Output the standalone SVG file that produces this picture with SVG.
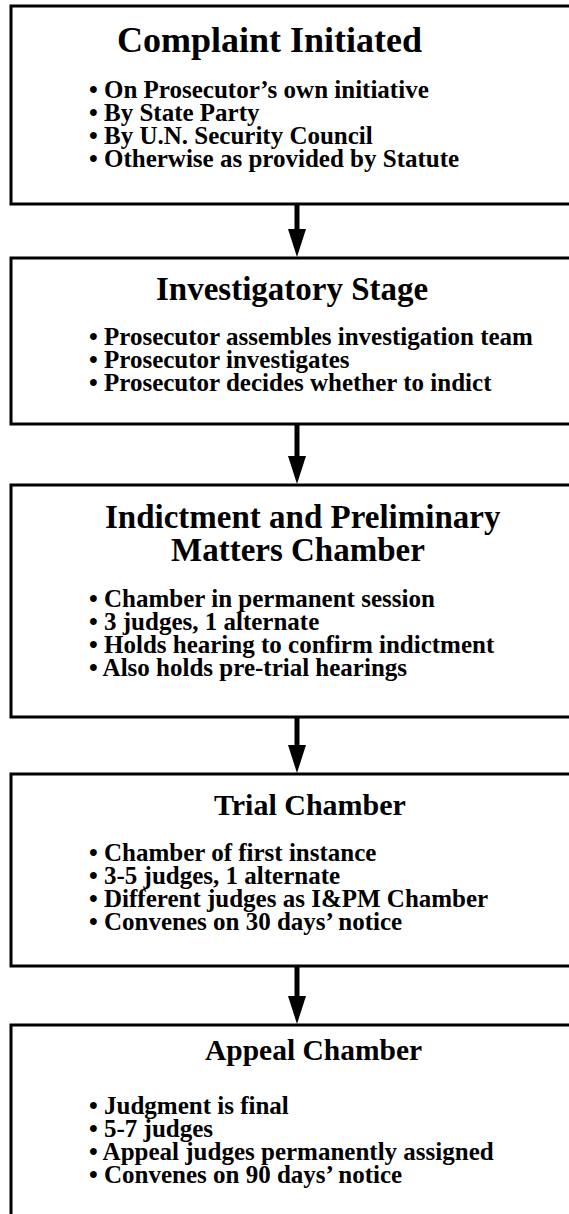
<svg xmlns="http://www.w3.org/2000/svg" width="569" height="1214" viewBox="0 0 569 1214">
<defs>
<style>
.box{fill:#fff;stroke:#000;stroke-width:3}
.t{font-family:"Liberation Serif","Times New Roman",serif;font-weight:bold;fill:#000}
.b{font-family:"Liberation Serif","Times New Roman",serif;font-weight:bold;font-size:25px;fill:#000}
.sh{stroke:#000;stroke-width:5;fill:none}
.hd{fill:#000}
</style>
</defs>
<rect width="569" height="1214" fill="#fff"/>
<g id="connectors">
<line class="sh" x1="297" y1="204" x2="297" y2="234"/><polygon class="hd" points="288,229 306,229 297,257"/>
<line class="sh" x1="297" y1="424" x2="297" y2="461"/><polygon class="hd" points="288,456 306,456 297,484"/>
<line class="sh" x1="297" y1="717" x2="297" y2="750"/><polygon class="hd" points="288,745 306,745 297,773"/>
<line class="sh" x1="297" y1="966" x2="297" y2="1001"/><polygon class="hd" points="288,996 306,996 297,1024"/>
</g>
<g id="n1">
<rect class="box" x="11" y="6" width="600" height="198"/>
<text class="t" x="117" y="52" font-size="36">Complaint Initiated</text>
<text class="b" x="89" y="98">• On Prosecutor’s own initiative</text>
<text class="b" x="89" y="121">• By State Party</text>
<text class="b" x="89" y="144">• By U.N. Security Council</text>
<text class="b" x="89" y="167">• Otherwise as provided by Statute</text>
</g>
<g id="n2">
<rect class="box" x="11" y="258" width="600" height="166"/>
<text class="t" x="156" y="300" font-size="33">Investigatory Stage</text>
<text class="b" x="89" y="345">• Prosecutor assembles investigation team</text>
<text class="b" x="89" y="368">• Prosecutor investigates</text>
<text class="b" x="89" y="391">• Prosecutor decides whether to indict</text>
</g>
<g id="n3">
<rect class="box" x="11" y="485" width="600" height="232"/>
<text class="t" x="105" y="528" font-size="33">Indictment and Preliminary</text>
<text class="t" x="171" y="561" font-size="33">Matters Chamber</text>
<text class="b" x="89" y="607">• Chamber in permanent session</text>
<text class="b" x="89" y="630">• 3 judges, 1 alternate</text>
<text class="b" x="89" y="653">• Holds hearing to confirm indictment</text>
<text class="b" x="89" y="676">• Also holds pre-trial hearings</text>
</g>
<g id="n4">
<rect class="box" x="11" y="774" width="600" height="192"/>
<text class="t" x="214" y="815" font-size="30">Trial Chamber</text>
<text class="b" x="89" y="861">• Chamber of first instance</text>
<text class="b" x="89" y="884">• 3-5 judges, 1 alternate</text>
<text class="b" x="89" y="907">• Different judges as I&amp;PM Chamber</text>
<text class="b" x="89" y="930">• Convenes on 30 days’ notice</text>
</g>
<g id="n5">
<rect class="box" x="11" y="1025" width="600" height="220"/>
<text class="t" x="205" y="1060" font-size="29.5">Appeal Chamber</text>
<text class="b" x="89" y="1114">• Judgment is final</text>
<text class="b" x="89" y="1137">• 5-7 judges</text>
<text class="b" x="89" y="1160">• Appeal judges permanently assigned</text>
<text class="b" x="89" y="1183">• Convenes on 90 days’ notice</text>
</g>
</svg>
